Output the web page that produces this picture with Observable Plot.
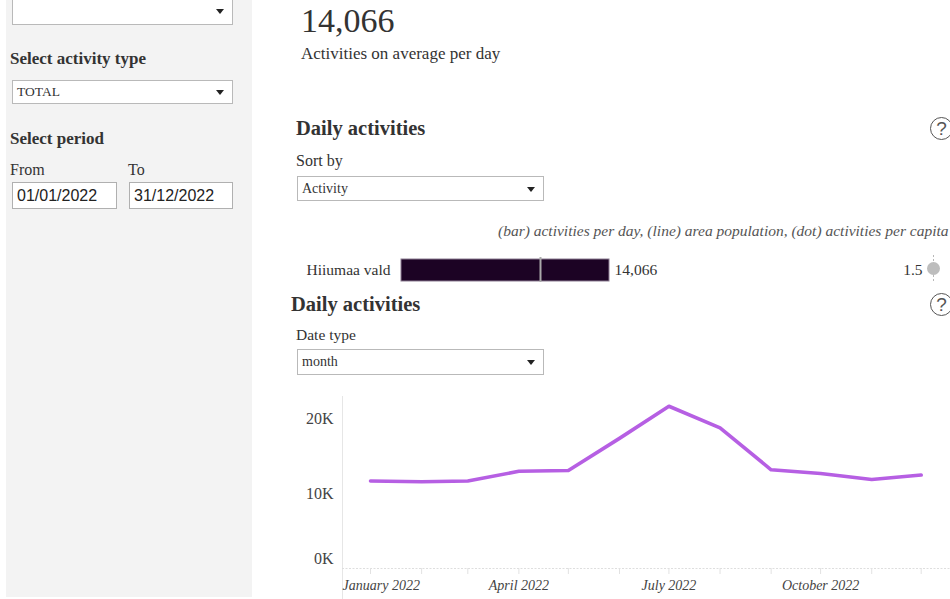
<!DOCTYPE html>
<html>
<head>
<meta charset="utf-8">
<script src="https://cdn.jsdelivr.net/npm/d3@7"></script>
<script src="https://cdn.jsdelivr.net/npm/@observablehq/plot@0.6"></script>
<style>
  html, body { margin: 0; padding: 0; }
  body { width: 950px; height: 599px; overflow: hidden; position: relative; background: #fff;
         font-family: "Liberation Serif", "Times New Roman", serif; color: #333; }
  .abs { position: absolute; white-space: nowrap; }
  .side { position: absolute; left: 6px; top: 0; width: 246px; height: 597px; background: #f3f3f3; }
  .dd { position: absolute; background: #fff; border: 1px solid #b9b9b9; box-sizing: border-box;
        font-size: 13.5px; padding-left: 4px; display: flex; align-items: center; }
  .dd .arr { position: absolute; right: 8px; top: 50%; margin-top: -2px; width: 0; height: 0;
             border-left: 4.5px solid transparent; border-right: 4.5px solid transparent; border-top: 5px solid #222; }
  .inp { position: absolute; background: #fff; border: 1px solid #b0b0b0; box-sizing: border-box;
         font-family: "Liberation Sans", Arial, sans-serif; font-size: 16px; padding-left: 4px;
         display: flex; align-items: center; color: #222; }
  .h3 { font-weight: bold; font-size: 17px; }
  .h2 { font-weight: bold; font-size: 20.5px; }
  .help { position: absolute; width: 21px; height: 21px; border: 1.6px solid #555; border-radius: 50%;
          font-family: "Liberation Sans", Arial, sans-serif; font-size: 19px; color: #555;
          display: flex; align-items: center; justify-content: center; line-height: 1; }
  .plotbox { position: absolute; overflow: visible; }
  .plotbox svg { max-width: none !important; }
</style>
</head>
<body>
<div class="side"></div>
<div class="dd" style="left:12px; top:-4px; width:221px; height:29px;"><span class="arr"></span></div>
<div class="abs h3" style="left:10px; top:49px;">Select activity type</div>
<div class="dd" style="left:12px; top:80px; width:221px; height:24px;">TOTAL<span class="arr"></span></div>
<div class="abs h3" style="left:10px; top:129px;">Select period</div>
<div class="abs" style="left:10px; top:161px; font-size:16px;">From</div>
<div class="abs" style="left:128px; top:161px; font-size:16px;">To</div>
<div class="inp" style="left:12px; top:182px; width:105px; height:27px;">01/01/2022</div>
<div class="inp" style="left:129px; top:182px; width:104px; height:27px;">31/12/2022</div>

<div class="abs" id="kpi" style="left:301px; top:1px; font-size:34px; line-height:40px;"></div>
<div class="abs" style="left:301px; top:44px; font-size:17px;">Activities on average per day</div>

<div class="abs h2" style="left:296px; top:117px;">Daily activities</div>
<div class="help" style="left:930px; top:117px;">?</div>
<div class="abs" style="left:296px; top:152px; font-size:16px;">Sort by</div>
<div class="dd" style="left:297px; top:176px; width:247px; height:25px; font-size:14px;">Activity<span class="arr"></span></div>
<div class="abs" id="sub" style="left:498px; top:222px; font-size:15.5px; font-style:italic; color:#555;"></div>

<div class="plotbox" id="bar" style="left:290px; top:250px; width:400px;"></div>
<div class="plotbox" id="dot" style="left:700px; top:250px; width:250px;"></div>

<div class="abs h2" style="left:291px; top:293px;">Daily activities</div>
<div class="help" style="left:930px; top:293px;">?</div>
<div class="abs" style="left:296px; top:326px; font-size:15.5px;">Date type</div>
<div class="dd" style="left:297px; top:349px; width:247px; height:26px; font-size:14px;">month<span class="arr"></span></div>

<div class="plotbox" id="line" style="left:290px; top:390px; width:680px;"></div>

<script>
// ---- data ----
const areas = ["Hiiumaa vald"];
const activitiesPerDay = [14066];
const areaPopulation = [9400];
const activitiesPerCapita = [1.5];
const subtitle = "(bar) activities per day, (line) area population, (dot) activities per capita";

const months = ["2022-01-01","2022-02-01","2022-03-01","2022-04-01","2022-05-01","2022-06-01",
                "2022-07-01","2022-08-01","2022-09-01","2022-10-01","2022-11-01","2022-12-01"];
const monthlyActivities = [11700, 11600, 11700, 13000, 13100, 17400, 21700, 18800, 13200, 12700, 11900, 12500];
const quarterTicks = ["2022-01-01","2022-04-01","2022-07-01","2022-10-01"];
const yTicks = [0, 10000, 20000];

// ---- text ----
document.getElementById("kpi").textContent = d3.format(",")(activitiesPerDay[0]);
document.getElementById("sub").textContent = subtitle;

const font = {fontFamily: "'Liberation Serif', serif", fontSize: "15px", color: "#333", background: "transparent", overflow: "visible", maxWidth: "none"};

// ---- bar row ----
const rows = areas.map((a, i) => ({area: a, act: activitiesPerDay[i], pop: areaPopulation[i], pc: activitiesPerCapita[i]}));

const bar = Plot.plot({
  width: 400, height: 40,
  marginLeft: 111, marginRight: 81, marginTop: 9, marginBottom: 9,
  style: font,
  x: {domain: [0, activitiesPerDay[0]], axis: null},
  y: {domain: areas, padding: 0, label: null},
  marks: [
    Plot.axisY({tickSize: 0, tickPadding: 11, fontSize: 15.5, fill: "#333"}),
    Plot.barX(rows, {x: "act", y: "area", fill: "#1c0324", stroke: "#8c7d92", strokeWidth: 1}),
    Plot.tickX(rows, {x: "pop", y: "area", stroke: "#aaaaaa", strokeWidth: 2, insetTop: -2, insetBottom: -1}),
    Plot.text(rows, {x: "act", y: "area", text: d => d3.format(",")(d.act), textAnchor: "start", dx: 5, fontSize: 15.5, fill: "#333"})
  ]
});
document.getElementById("bar").appendChild(bar);

const dot = Plot.plot({
  width: 250, height: 40,
  marginLeft: 10, marginRight: 17, marginTop: 7, marginBottom: 11,
  style: font,
  x: {domain: [0, 1.5], axis: null},
  y: {domain: areas, padding: 0, axis: null},
  marks: [
    Plot.tickX(rows, {x: "pc", y: "area", stroke: "#b8b8b8", strokeWidth: 1, strokeDasharray: "2,2", insetTop: -2, insetBottom: -4}),
    Plot.dot(rows, {x: "pc", y: "area", r: 6.5, fill: "#bdbdbd"}),
    Plot.text(rows, {x: "pc", y: "area", text: d => d3.format(".1f")(d.pc), textAnchor: "end", dx: -11, dy: 2, fontSize: 15.5, fill: "#333"})
  ]
});
document.getElementById("dot").appendChild(dot);

// ---- line chart ----
const series = months.map((m, i) => ({date: new Date(m), value: monthlyActivities[i]}));
const xStart = new Date("2021-12-15");
const xEnd = new Date("2022-12-20");
const labelFmt = d3.utcFormat("%B %Y");
const xLabelStyle = {tickSize: 0, tickPadding: 12, label: null, tickFormat: labelFmt, fontStyle: "italic", fontSize: 14, fill: "#444"};

const line = Plot.plot({
  width: 680, height: 209,
  marginLeft: 52, marginRight: 18, marginTop: 6, marginBottom: 31,
  style: {...font, fontSize: "16px"},
  x: {type: "utc", domain: [xStart, xEnd]},
  y: {domain: [0, 23000]},
  marks: [
    Plot.ruleX([xStart], {stroke: "#e6e6e6", strokeWidth: 1, insetBottom: -31}),
    Plot.ruleY([0], {stroke: "#dedede", strokeDasharray: "2,1.5"}),
    Plot.axisX({ticks: months.map(d => new Date(d)), tickSize: 6, stroke: "#e2e2e2", text: null, label: null}),
    // first label is flush with the axis start
    Plot.axisX({...xLabelStyle, ticks: quarterTicks.slice(0, 1).map(d => new Date(d)), textAnchor: "start", dx: -28}),
    Plot.axisX({...xLabelStyle, ticks: quarterTicks.slice(1).map(d => new Date(d))}),
    Plot.axisY({ticks: yTicks.filter(v => v > 0), tickSize: 0, tickPadding: 9, label: null,
                tickFormat: v => v / 1000 + "K", fontSize: 16, fill: "#444"}),
    Plot.axisY({ticks: [0], tickSize: 0, tickPadding: 9, label: null, dy: -10,
                tickFormat: v => v / 1000 + "K", fontSize: 16, fill: "#444"}),
    Plot.line(series, {x: "date", y: "value", stroke: "#b65fe3", strokeWidth: 3.6, strokeLinejoin: "round"})
  ]
});
document.getElementById("line").appendChild(line);
</script>
</body>
</html>
